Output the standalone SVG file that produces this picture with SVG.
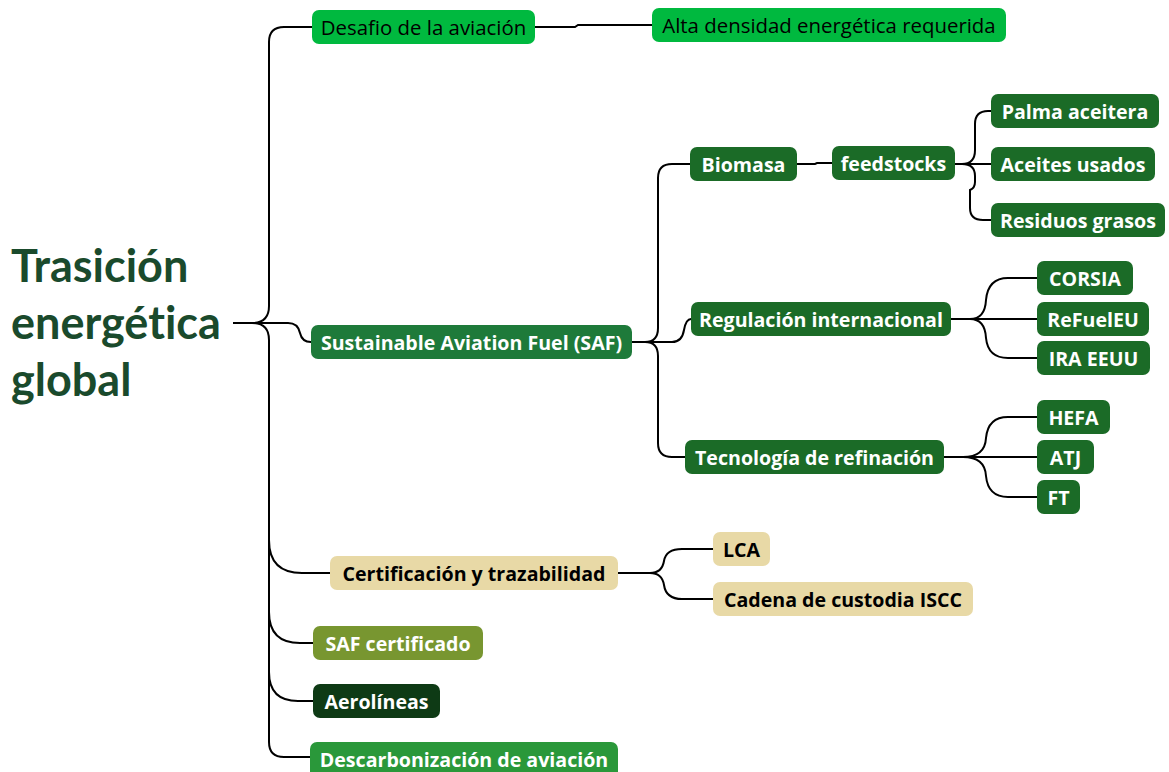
<svg xmlns="http://www.w3.org/2000/svg" width="1169" height="772" viewBox="0 0 1169 772">
<style>
.n rect{rx:7;ry:7}
.t{font-family:"Open Sans",Lato,sans-serif;font-size:19.6px;font-weight:700;fill:#fff;text-anchor:middle;dominant-baseline:central}
.tr{font-weight:400;fill:#000;font-size:20.4px}
.tk{fill:#000}
.c{fill:none;stroke:#000;stroke-width:2}
.g1{fill:#00b93f}.g2{fill:#1b6b27}.g3{fill:#1e7a3a}.bg{fill:#e8d9a6}.ol{fill:#789630}.dk{fill:#0e3a15}.g4{fill:#2a983a}
</style>
<rect width="1169" height="772" fill="#fff"/>
<g id="connectors">
<path class="c" d="M233,323 H252 Q269,323 269,306 V42 Q269,27 284,27 H312"/>
<path class="c" d="M252,323 Q269,323 269,340 V742 Q269,757 284,757 H310"/>
<path class="c" d="M252,323 H288 Q298,323 300,333 Q302,342 311,342"/>
<path class="c" d="M269,540 Q269,573 302,573 H330"/>
<path class="c" d="M269,612 Q269,643 300,643 H313"/>
<path class="c" d="M269,672 Q269,701 298,701 H313"/>
<path class="c" d="M535,27 H575 L578,25 H652"/>
<path class="c" d="M632,342 H645 Q658,342 658,328 V178 Q658,164 672,164 H690"/>
<path class="c" d="M645,342 Q658,342 658,356 V443 Q658,457 672,457 H685"/>
<path class="c" d="M645,342 H672 Q682,342 684,330 Q686,319 691,319"/>
<path class="c" d="M797,164 H815 L817,163 H832"/>
<path class="c" d="M955,164 H991"/>
<path class="c" d="M962,164 Q975,164 975,150 V124 Q975,111 988,111 H991"/>
<path class="c" d="M962,164 Q975,164 975,176 V182 Q975,188 970,190 V208 Q970,220 983,220 H991"/>
<path class="c" d="M951,319 H1037"/>
<path class="c" d="M970,319 Q985,319 986,300 Q988,278 1008,278 H1037"/>
<path class="c" d="M970,319 Q985,319 986,338 Q988,358 1008,358 H1037"/>
<path class="c" d="M944,457 H1037"/>
<path class="c" d="M963,457 Q985,457 986,438 Q988,417 1008,417 H1037"/>
<path class="c" d="M963,457 Q985,457 986,476 Q988,497 1008,497 H1037"/>
<path class="c" d="M618,573 H650 Q662,573 664,561 Q666,549 682,549 H713"/>
<path class="c" d="M650,573 Q662,573 664,585 Q666,599 682,599 H713"/>
</g>
<g id="root">
<text font-family="Lato,'Open Sans',sans-serif" font-weight="700" font-size="45" fill="#1a4a2c" style="font-variant-ligatures:none"><tspan x="11" y="282">Trasición</tspan><tspan x="11" y="339">energética</tspan><tspan x="11" y="396">global</tspan></text>
</g>
<g id="desafio" class="n"><rect class="g1" x="312" y="10" width="223" height="34"/><text class="t tr" x="423.5" y="27">Desafio de la aviación</text></g>
<g id="alta" class="n"><rect class="g1" x="652" y="8" width="354" height="34"/><text class="t tr" x="829" y="25">Alta densidad energética requerida</text></g>
<g id="saf" class="n"><rect class="g3" x="311" y="325" width="321" height="34"/><text class="t" x="471.5" y="342">Sustainable Aviation Fuel (SAF)</text></g>
<g id="biomasa" class="n"><rect class="g2" x="690" y="147" width="107" height="34"/><text class="t" x="743.5" y="164">Biomasa</text></g>
<g id="feedstocks" class="n"><rect class="g2" x="832" y="146" width="123" height="34"/><text class="t" x="893.5" y="163">feedstocks</text></g>
<g id="palma" class="n"><rect class="g2" x="991" y="94" width="168" height="34"/><text class="t" x="1075" y="111">Palma aceitera</text></g>
<g id="aceites" class="n"><rect class="g2" x="991" y="147" width="164" height="34"/><text class="t" x="1073" y="164">Aceites usados</text></g>
<g id="residuos" class="n"><rect class="g2" x="991" y="203" width="174" height="34"/><text class="t" x="1078" y="220">Residuos grasos</text></g>
<g id="regulacion" class="n"><rect class="g2" x="691" y="302" width="260" height="34"/><text class="t" x="821" y="319">Regulación internacional</text></g>
<g id="corsia" class="n"><rect class="g2" x="1037" y="261" width="96" height="34"/><text class="t" x="1085" y="278">CORSIA</text></g>
<g id="refueleu" class="n"><rect class="g2" x="1037" y="302" width="112" height="34"/><text class="t" x="1093" y="319">ReFuelEU</text></g>
<g id="ira" class="n"><rect class="g2" x="1037" y="341" width="113" height="34"/><text class="t" x="1093.5" y="358">IRA EEUU</text></g>
<g id="tecnologia" class="n"><rect class="g2" x="685" y="440" width="259" height="34"/><text class="t" x="814.5" y="457">Tecnología de refinación</text></g>
<g id="hefa" class="n"><rect class="g2" x="1037" y="400" width="73" height="34"/><text class="t" x="1073.5" y="417">HEFA</text></g>
<g id="atj" class="n"><rect class="g2" x="1037" y="440" width="57" height="34"/><text class="t" x="1065.5" y="457">ATJ</text></g>
<g id="ft" class="n"><rect class="g2" x="1037" y="480" width="43" height="34"/><text class="t" x="1058.5" y="497">FT</text></g>
<g id="certificacion" class="n"><rect class="bg" x="330" y="556" width="288" height="34"/><text class="t tk" x="474" y="573">Certificación y trazabilidad</text></g>
<g id="lca" class="n"><rect class="bg" x="713" y="532" width="57" height="34"/><text class="t tk" x="741.5" y="549">LCA</text></g>
<g id="cadena" class="n"><rect class="bg" x="713" y="582" width="260" height="34"/><text class="t tk" x="843" y="599">Cadena de custodia ISCC</text></g>
<g id="safcert" class="n"><rect class="ol" x="313" y="626" width="170" height="34"/><text class="t" x="398" y="643">SAF certificado</text></g>
<g id="aerolineas" class="n"><rect class="dk" x="313" y="684" width="127" height="34"/><text class="t" x="376.5" y="701">Aerolíneas</text></g>
<g id="descarbonizacion" class="n"><rect class="g4" x="310" y="742" width="308" height="40"/><text class="t" x="464" y="759">Descarbonización de aviación</text></g>
</svg>
